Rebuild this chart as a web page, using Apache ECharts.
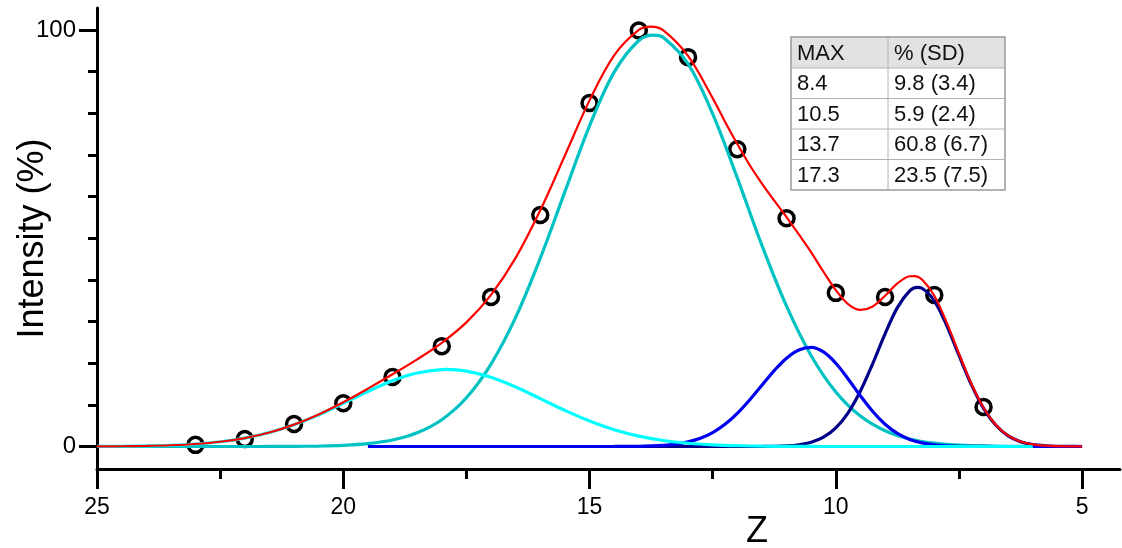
<!DOCTYPE html>
<html><head><meta charset="utf-8">
<script src="https://cdn.jsdelivr.net/npm/echarts@6/dist/echarts.min.js"></script>
<style>html,body{margin:0;padding:0;background:#fff}#c{width:1122px;height:548px}</style>
</head><body><div id="c"></div>
<script>
// ---- data ----
const xMajorTicks = [5, 10, 15, 20, 25];
const xMinorTicks = [7.5, 12.5, 17.5, 22.5];
const yMajorTicks = [0, 100];
const yMinorTicks = [10, 20, 30, 40, 50, 60, 70, 80, 90];

const zPoints = [23, 22, 21, 20, 19, 18, 17, 16, 15, 14, 13, 12, 11, 10, 9, 8, 7];
const intensityPoints = [0.4, 1.8, 5.4, 10.4, 16.7, 24.1, 35.9, 55.6, 82.5, 99.9, 93.5, 71.4, 54.8, 36.9, 35.9, 36.4, 9.5];

const zTeal = [25,24.5,24,23.5,23,22.5,22,21.5,21,20.5,20,19.5,19,18.5,18,17.5,17,16.5,16,15.5,15,14.5,14,13.7,13.5,13,12.5,12,11.5,11,10.5,10,9.5,9,8.5,8,7.5,7,6.5,6,5.5,5];
const teal = [0,0,0,0,0,0.001,0.004,0.012,0.038,0.107,0.28,0.69,1.56,3.29,6.43,11.7,19.8,31.0,45.2,61.2,77.0,89.9,97.5,98.8,98.2,91.9,79.9,64.5,48.3,33.7,21.8,13.1,7.3,3.78,1.82,0.81,0.34,0.13,0.05,0.02,0.005,0];

const zCyan = [25,24.5,24,23.5,23,22.5,22,21.5,21,20.5,20,19.5,19,18.5,18,17.9,17.5,17,16.5,16,15.5,15,14.5,14,13.5,13,12.5,12,11.5,11,10.5,10,9.5,9,8.5,8,7.5,7,6.5,6];
const cyan = [0.02,0.06,0.14,0.30,0.60,1.14,2.03,3.36,5.22,7.60,10.36,13.21,15.78,17.64,18.48,18.5,18.11,16.63,14.30,11.51,8.67,6.12,4.04,2.50,1.45,0.79,0.40,0.19,0.085,0.035,0.014,0.005,0.002,0,0,0,0,0,0,0];

const zBlue = [19.5,19,18.5,18,17.5,17,16.5,16,15.5,15,14.5,14,13.5,13.25,13,12.75,12.5,12.25,12,11.75,11.5,11.25,11,10.75,10.5,10.25,10,9.75,9.5,9.25,9,8.75,8.5,8.25,8,7.75,7.5,7.25,7,6.5,6,5.5,5];
const blue = [0,0,0,0,0,0,0,0,0,0.001,0.009,0.056,0.28,0.57,1.10,1.98,3.35,5.33,7.96,11.17,14.72,18.23,21.21,23.18,23.79,22.71,19.99,16.23,12.16,8.41,5.36,3.15,1.71,0.86,0.40,0.17,0.066,0.02,0.01,0,0,0,0];

const zNavy = [14,13.5,13,12.5,12,11.5,11,10.75,10.5,10.25,10,9.75,9.5,9.25,9,8.75,8.5,8.35,8.25,8,7.75,7.5,7.25,7,6.75,6.5,6.25,6,5.75,5.5,5.25,5];
const navy = [0,0,0,0,0.001,0.017,0.16,0.42,1.02,2.24,4.47,8.10,13.33,19.92,27.05,33.35,37.36,38.2,38.0,34.99,29.12,21.92,14.91,9.17,5.10,2.57,1.17,0.48,0.18,0.06,0.02,0.005];

const zFit = [25,24.5,24,23.5,23,22.5,22,21.5,21,20.5,20,19.5,19,18.5,18,17.5,17,16.5,16,15.5,15,14.5,14,13.75,13.5,13,12.5,12.25,12,11.75,11.5,11.25,11,10.75,10.5,10.25,10,9.75,9.5,9.25,9,8.75,8.5,8.4,8.25,8,7.75,7.5,7.25,7,6.75,6.5,6.25,6,5.75,5.5,5.25,5];
const fit = [0.02,0.06,0.14,0.30,0.60,1.14,2.03,3.37,5.26,7.71,10.64,13.90,17.34,20.93,24.91,29.81,36.43,45.30,56.71,69.87,83.12,93.95,100.06,100.85,99.93,93.79,83.65,78.0,72.65,67.6,63.12,59.04,55.1,50.92,46.62,41.96,37.56,34.19,32.79,33.63,36.19,39.15,40.89,40.93,40.09,36.2,29.82,22.33,15.14,9.31,5.18,2.62,1.2,0.5,0.19,0.07,0.02,0.01];

const tableHeader = ['MAX', '% (SD)'];
const tableMax = ['8.4', '10.5', '13.7', '17.3'];
const tablePct = ['9.8 (3.4)', '5.9 (2.4)', '60.8 (6.7)', '23.5 (7.5)'];

// ---- chart ----
const FONT = '"Liberation Sans", Arial, sans-serif';
const pairs = (xs, ys) => xs.map((x, i) => [x, ys[i]]);

function lineSeries(name, xs, ys, color, width) {
  return {
    name, type: 'line', data: pairs(xs, ys), showSymbol: false, smooth: 0.35,
    lineStyle: { color, width }, itemStyle: { color }, silent: true
  };
}

// table overlay
const tX = 791, tY = 37, c1 = 97, c2 = 117, hH = 31, rH = 30.5;
const tW = c1 + c2, tH = hH + rH * tableMax.length;
const els = [];
els.push({ type: 'rect', shape: { x: tX, y: tY, width: tW, height: hH }, style: { fill: '#e2e2e2' } });
for (let i = 0; i < tableMax.length; i++) {
  const y = tY + hH + rH * i;
  els.push({ type: 'line', shape: { x1: tX, y1: y, x2: tX + tW, y2: y }, style: { stroke: '#b4b4b4', lineWidth: 1 } });
}
els.push({ type: 'line', shape: { x1: tX + c1, y1: tY, x2: tX + c1, y2: tY + tH }, style: { stroke: '#b4b4b4', lineWidth: 1 } });
els.push({ type: 'rect', shape: { x: tX, y: tY, width: tW, height: tH }, style: { fill: 'none', stroke: '#9a9a9a', lineWidth: 1.5 } });
const txt = (s, x, y) => ({ type: 'text', x, y, style: { text: s, font: '22px ' + FONT, fill: '#111', align: 'left', verticalAlign: 'middle' } });
els.push(txt(tableHeader[0], tX + 6, tY + hH / 2 + 1));
els.push(txt(tableHeader[1], tX + c1 + 6, tY + hH / 2 + 1));
tableMax.forEach((s, i) => {
  const y = tY + hH + rH * i + rH / 2 + 1;
  els.push(txt(s, tX + 6, y));
  els.push(txt(tablePct[i], tX + c1 + 6, y));
});

const chart = echarts.init(document.getElementById('c'), null, { renderer: 'canvas' });
chart.setOption({
  animation: false,
  backgroundColor: '#fff',
  grid: { left: 97, right: 2, top: 8, bottom: 79, containLabel: false, outerBoundsMode: 'none' },
  xAxis: [
    {
      type: 'value', min: 4.23, max: 25, inverse: true, position: 'bottom',
      axisLine: { onZero: false, lineStyle: { color: '#000', width: 3 } },
      axisTick: { customValues: xMajorTicks, length: 20, lineStyle: { color: '#000', width: 3 } },
      axisLabel: { customValues: xMajorTicks, fontSize: 23, color: '#000', margin: 27, fontFamily: FONT },
      splitLine: { show: false },
      name: 'Z', nameLocation: 'middle', nameGap: 45, nameMoveOverlap: false,
      nameTextStyle: { fontSize: 36, color: '#000', fontFamily: FONT, padding: [0, 0, 0, 297] }
    },
    {
      type: 'value', min: 4.23, max: 25, inverse: true, position: 'bottom', gridIndex: 0,
      axisLine: { show: false, onZero: false },
      axisTick: { customValues: xMinorTicks, length: 10, lineStyle: { color: '#000', width: 3 } },
      axisLabel: { show: false }, splitLine: { show: false }
    }
  ],
  yAxis: [
    {
      type: 'value', min: -5.4, max: 105.3, position: 'left',
      axisLine: { onZero: false, lineStyle: { color: '#000', width: 3 } },
      axisTick: { customValues: yMajorTicks, length: 18, lineStyle: { color: '#000', width: 3 } },
      axisLabel: { customValues: yMajorTicks, fontSize: 24, color: '#000', margin: 21, fontFamily: FONT },
      splitLine: { show: false },
      name: 'Intensity (%)', nameLocation: 'middle', nameGap: 46, nameMoveOverlap: false,
      nameTextStyle: { fontSize: 36, color: '#000', fontFamily: FONT }
    },
    {
      type: 'value', min: -5.4, max: 105.3, position: 'left', gridIndex: 0,
      axisLine: { show: false, onZero: false },
      axisTick: { customValues: yMinorTicks, length: 9, lineStyle: { color: '#000', width: 3 } },
      axisLabel: { show: false }, splitLine: { show: false }
    }
  ],
  series: [
    lineSeries('Peak 13.7', zTeal, teal, '#00c2c2', 3.2),
    lineSeries('Peak 8.4', zNavy, navy, '#000088', 3.2),
    lineSeries('Peak 10.5', zBlue, blue, '#0000f0', 3.2),
    lineSeries('Peak 17.3', zCyan, cyan, '#00ffff', 3.2),
    lineSeries('Fit', zFit, fit, '#ff0000', 2.2),
    {
      name: 'Data', type: 'scatter', data: pairs(zPoints, intensityPoints),
      symbol: 'circle', symbolSize: 15,
      itemStyle: { color: 'rgba(255,255,255,0)', borderColor: '#000', borderWidth: 3.5, opacity: 1 }, silent: true
    }
  ],
  graphic: { elements: els }
});
</script>
</body></html>
